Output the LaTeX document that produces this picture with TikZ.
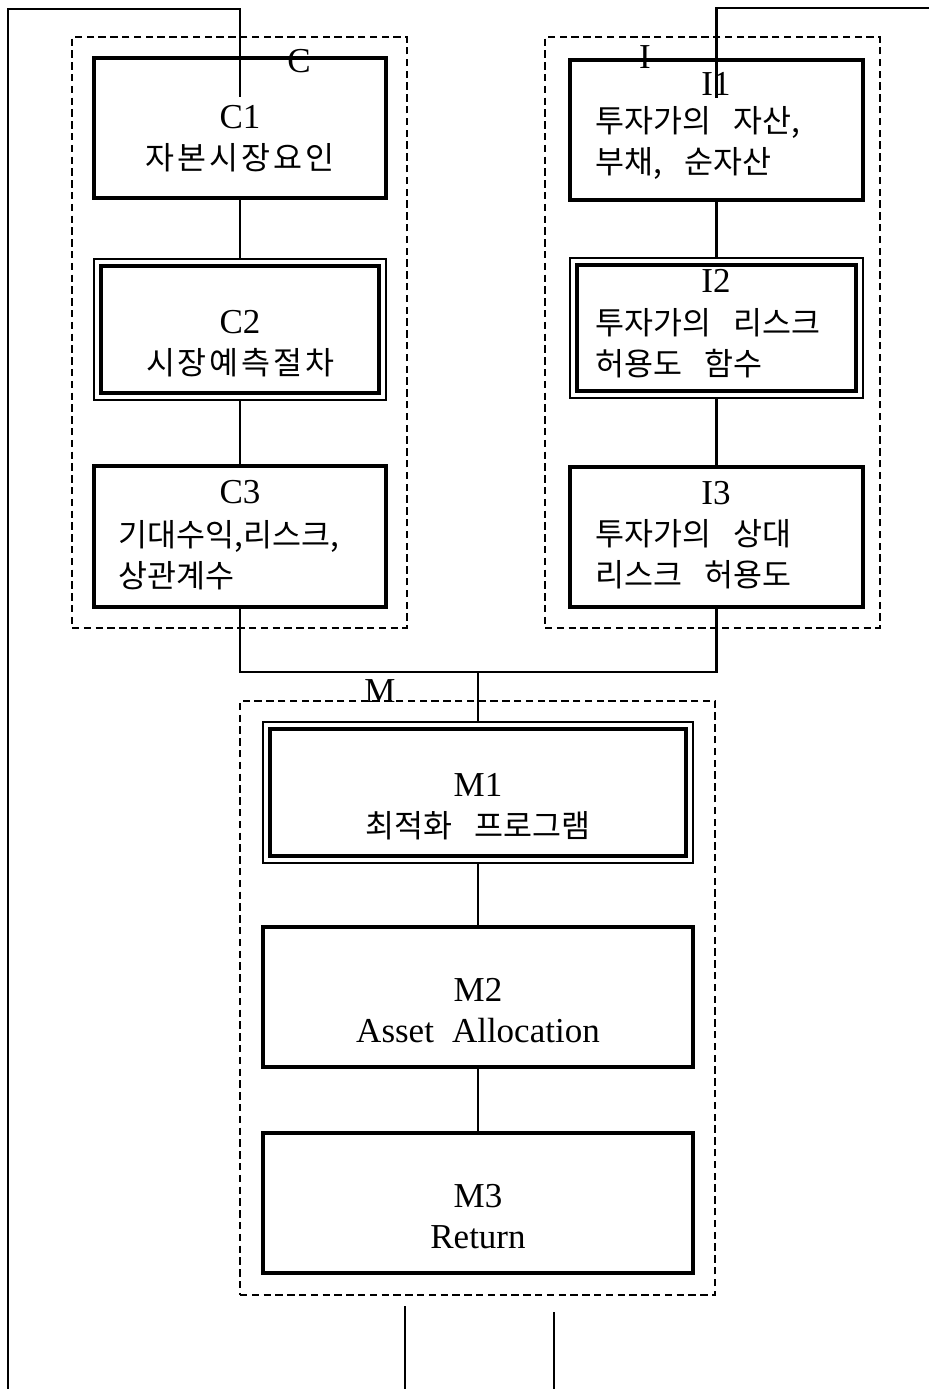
\documentclass[tikz,border=0pt]{standalone}
\usepackage{fontspec}
\setmainfont{Liberation Serif}
\newfontfamily\kf{Noto Sans CJK KR}[Scale=0.9]
\usetikzlibrary{calc}
\newcommand{\ks}{\hspace{11pt}}
\begin{document}
\begin{tikzpicture}[x=0.5pt,y=-0.5pt,
  box/.style={draw, line width=1.8pt, inner sep=0pt, outer sep=0pt},
  dbox/.style={draw, line width=1.4pt, inner sep=0pt, outer sep=0pt},
  inbox/.style={line width=2pt},
  grp/.style={draw, dash pattern=on 3.7pt off 2.2pt, line width=1pt, inner sep=0pt, outer sep=0pt},
  conn/.style={line width=1.3pt},
  txt/.style={font=\fontsize{17.5}{20.5}\selectfont, inner sep=0pt, align=center},
  body/.style={font=\fontsize{17.5}{20.5}\selectfont\kf, inner sep=0pt, align=left, anchor=west},
  glabel/.style={font=\fontsize{17.5}{20.5}\selectfont, inner sep=0pt}]
\useasboundingbox (0,0) rectangle (928,1389);

% groups
\node[grp, minimum width=167.5pt, minimum height=295.5pt] (Cg) at (239.5,332.5) {};
\node[grp, minimum width=167.5pt, minimum height=295.5pt] (Ig) at (712.5,332.5) {};
\node[grp, minimum width=237.5pt, minimum height=297pt] (Mg) at (477.5,998) {};

% boxes
\node[box,  minimum width=146pt, minimum height=70pt] (C1) at (240,128) {};
\node[dbox, minimum width=146pt, minimum height=70.5pt] (C2) at (240,329.5) {};
\node[box,  minimum width=146pt, minimum height=70.5pt] (C3) at (240,536.5) {};
\node[box,  minimum width=146.5pt, minimum height=70pt] (I1) at (716.5,130) {};
\node[dbox, minimum width=146.5pt, minimum height=70pt] (I2) at (716.5,328) {};
\node[box,  minimum width=146.5pt, minimum height=70pt] (I3) at (716.5,537) {};
\node[dbox, minimum width=215pt, minimum height=70.5pt] (M1) at (478,792.5) {};
\node[box,  minimum width=215pt, minimum height=70pt] (M2) at (478,997) {};
\node[box,  minimum width=215pt, minimum height=70pt] (M3) at (478,1203) {};

\draw[inbox] ($(C2.north west)+(7,7)$) rectangle ($(C2.south east)+(-7,-7)$);
\draw[inbox] ($(I2.north west)+(7,7)$) rectangle ($(I2.south east)+(-7,-7)$);
\draw[inbox] ($(M1.north west)+(7,7)$) rectangle ($(M1.south east)+(-7,-7)$);

% connectors
\coordinate (Ltop) at (8,9);
\coordinate (Lbot) at (8,1395);
\coordinate (Cin) at (240,97);
\coordinate (Rtop) at (935,8);
\coordinate (Iin) at (716.5,98);
\coordinate (J) at (478,672);
\coordinate (B1) at (405,1306);
\coordinate (B1e) at (405,1395);
\coordinate (B2) at (554,1312);
\coordinate (B2e) at (554,1395);

\draw[conn] (Lbot) -- (Ltop) -- (Cin |- Ltop) -- (Cin);
\draw[conn] (Rtop) -- (Iin |- Rtop) -- (Iin);
\draw[conn] (C1) -- (C2);
\draw[conn] (C2) -- (C3);
\draw[conn] (I1) -- (I2);
\draw[conn] (I2) -- (I3);
\draw[conn] (M1) -- (M2);
\draw[conn] (M2) -- (M3);
\draw[conn] (C3.south) |- (J) -| (I3.south);
\draw[conn] (J) -- (M1.north);
\draw[conn] (B1) -- (B1e);
\draw[conn] (B2) -- (B2e);

% texts
\node[txt] (C1t) at (240,139) {C1\\\makebox[95pt][s]{\kf 자\hfill 본\hfill 시\hfill 장\hfill 요\hfill 인}};
\node[txt] (C2t) at (240,344) {C2\\\makebox[94pt][s]{\kf 시\hfill 장\hfill 예\hfill 측\hfill 절\hfill 차}};
\node[txt] (C3h) at (240,492) {C3};
\node[body] (C3b) at (118,555) {기대수익,리스크,\\상관계수};
\node[txt] (I1h) at (716,84) {I1};
\node[body] (I1b) at (595,143) {투자가의\ks 자산,\\부채,\ks 순자산};
\node[txt] (I2h) at (716,281) {I2};
\node[body] (I2b) at (595,343.5) {투자가의\ks 리스크\\허용도\ks 함수};
\node[txt] (I3h) at (716,493) {I3};
\node[body] (I3b) at (595,554.5) {투자가의\ks 상대\\리스크\ks 허용도};
\node[txt] (M1t) at (478,807) {M1\\{\kf 최적화\ks 프로그램}};
\node[txt] (M2t) at (478,1011) {M2\\Asset\hspace{9pt}Allocation};
\node[txt] (M3t) at (478,1217) {M3\\Return};

\node[glabel] (Cl) at (299,61) {C};
\node[glabel] (Il) at (645,57) {I};
\node[glabel] (Ml) at (380,691) {M};
\end{tikzpicture}
\end{document}
